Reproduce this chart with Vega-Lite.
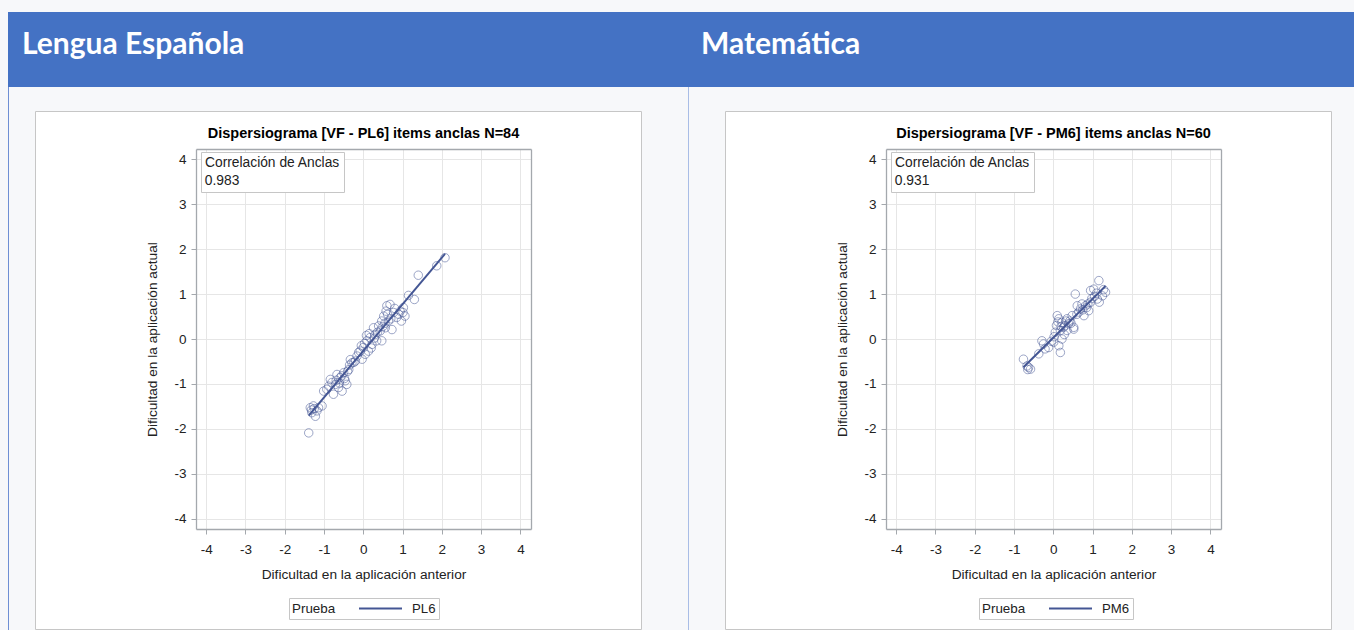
{
  "$schema": "https://vega.github.io/schema/vega-lite/v6.json",
  "padding": {"left": 8, "top": 12, "right": 0, "bottom": 0},
  "background": "#f7f8fa",
  "spacing": 0,
  "config": {"view": {"stroke": null, "fill": "white"}, "font": "Liberation Sans"},
  "datasets": {
    "materias": [{"materia": "Lengua Española"}, {"materia": "Matemática"}],
    "vacio": [],
    "pl6": [
      {"anterior": -1.39, "actual": -2.09}, {"anterior": -1.35, "actual": -1.53}, {"anterior": -1.31, "actual": -1.64},
      {"anterior": -1.27, "actual": -1.49}, {"anterior": -1.22, "actual": -1.72}, {"anterior": -1.18, "actual": -1.60},
      {"anterior": -1.14, "actual": -1.53}, {"anterior": -1.05, "actual": -1.49}, {"anterior": -1.32, "actual": -1.58},
      {"anterior": -1.25, "actual": -1.55}, {"anterior": -1.01, "actual": -1.16}, {"anterior": -0.93, "actual": -1.12},
      {"anterior": -0.84, "actual": -0.90}, {"anterior": -0.76, "actual": -1.23}, {"anterior": -0.71, "actual": -1.01},
      {"anterior": -0.67, "actual": -0.79}, {"anterior": -0.63, "actual": -1.08}, {"anterior": -0.59, "actual": -0.86},
      {"anterior": -0.54, "actual": -1.16}, {"anterior": -0.50, "actual": -0.75}, {"anterior": -0.46, "actual": -0.93},
      {"anterior": -0.42, "actual": -1.01}, {"anterior": -0.37, "actual": -0.68}, {"anterior": -0.33, "actual": -0.46},
      {"anterior": -0.29, "actual": -0.53}, {"anterior": -0.88, "actual": -1.05}, {"anterior": -0.80, "actual": -0.97},
      {"anterior": -0.69, "actual": -0.92}, {"anterior": -0.61, "actual": -0.98}, {"anterior": -0.55, "actual": -0.82},
      {"anterior": -0.48, "actual": -0.88}, {"anterior": -0.40, "actual": -0.72}, {"anterior": -0.35, "actual": -0.58},
      {"anterior": -0.24, "actual": -0.52}, {"anterior": -0.20, "actual": -0.49}, {"anterior": -0.16, "actual": -0.38},
      {"anterior": -0.12, "actual": -0.30}, {"anterior": -0.08, "actual": -0.27}, {"anterior": -0.03, "actual": -0.45},
      {"anterior": 0.00, "actual": -0.19}, {"anterior": 0.03, "actual": -0.10}, {"anterior": 0.05, "actual": -0.34},
      {"anterior": 0.09, "actual": -0.04}, {"anterior": 0.13, "actual": -0.27}, {"anterior": 0.17, "actual": 0.03},
      {"anterior": 0.20, "actual": -0.20}, {"anterior": 0.22, "actual": -0.12}, {"anterior": 0.26, "actual": 0.25},
      {"anterior": 0.30, "actual": 0.10}, {"anterior": 0.34, "actual": -0.04}, {"anterior": 0.39, "actual": 0.29},
      {"anterior": 0.43, "actual": 0.18}, {"anterior": 0.47, "actual": -0.04}, {"anterior": 0.08, "actual": 0.08},
      {"anterior": 0.15, "actual": 0.12}, {"anterior": 0.28, "actual": 0.02}, {"anterior": 0.36, "actual": 0.15},
      {"anterior": -0.05, "actual": -0.15}, {"anterior": 0.47, "actual": 0.40}, {"anterior": 0.52, "actual": 0.51},
      {"anterior": 0.56, "actual": 0.25}, {"anterior": 0.60, "actual": 0.74}, {"anterior": 0.64, "actual": 0.40},
      {"anterior": 0.68, "actual": 0.77}, {"anterior": 0.73, "actual": 0.21}, {"anterior": 0.77, "actual": 0.59},
      {"anterior": 0.85, "actual": 0.48}, {"anterior": 0.94, "actual": 0.62}, {"anterior": 1.02, "actual": 0.70},
      {"anterior": 1.06, "actual": 0.51}, {"anterior": 0.55, "actual": 0.35}, {"anterior": 0.62, "actual": 0.55},
      {"anterior": 0.70, "actual": 0.45}, {"anterior": 0.80, "actual": 0.68}, {"anterior": 0.90, "actual": 0.55},
      {"anterior": 0.58, "actual": 0.62}, {"anterior": 0.50, "actual": 0.28}, {"anterior": 1.01, "actual": 0.59},
      {"anterior": 1.15, "actual": 0.97}, {"anterior": 1.30, "actual": 0.88}, {"anterior": 1.40, "actual": 1.42},
      {"anterior": 1.87, "actual": 1.63}, {"anterior": 2.08, "actual": 1.81}, {"anterior": 0.97, "actual": 0.40}
    ],
    "pm6": [
      {"anterior": -0.76, "actual": -0.45}, {"anterior": -0.67, "actual": -0.60}, {"anterior": -0.63, "actual": -0.63},
      {"anterior": -0.58, "actual": -0.67}, {"anterior": -0.37, "actual": -0.33}, {"anterior": -0.29, "actual": -0.04},
      {"anterior": -0.25, "actual": -0.11}, {"anterior": -0.21, "actual": -0.22}, {"anterior": -0.12, "actual": -0.19},
      {"anterior": 0.01, "actual": -0.07}, {"anterior": 0.05, "actual": 0.15}, {"anterior": 0.10, "actual": 0.52},
      {"anterior": 0.14, "actual": 0.45}, {"anterior": 0.14, "actual": -0.15}, {"anterior": 0.18, "actual": 0.19},
      {"anterior": 0.18, "actual": -0.30}, {"anterior": 0.22, "actual": 0.37}, {"anterior": 0.22, "actual": 0.00},
      {"anterior": 0.26, "actual": 0.26}, {"anterior": 0.35, "actual": 0.45}, {"anterior": 0.35, "actual": 0.19},
      {"anterior": 0.39, "actual": 0.34}, {"anterior": 0.48, "actual": 0.52}, {"anterior": 0.52, "actual": 0.26},
      {"anterior": 0.52, "actual": 0.22}, {"anterior": 0.56, "actual": 1.00}, {"anterior": 0.61, "actual": 0.74},
      {"anterior": 0.69, "actual": 0.67}, {"anterior": 0.73, "actual": 0.78}, {"anterior": 0.78, "actual": 0.52},
      {"anterior": 0.82, "actual": 0.74}, {"anterior": 0.90, "actual": 0.63}, {"anterior": 0.95, "actual": 0.82},
      {"anterior": 0.95, "actual": 1.08}, {"anterior": 1.03, "actual": 1.11}, {"anterior": 1.12, "actual": 0.89},
      {"anterior": 1.16, "actual": 1.30}, {"anterior": 1.17, "actual": 0.82}, {"anterior": 1.25, "actual": 0.96},
      {"anterior": 1.33, "actual": 1.04}, {"anterior": 0.08, "actual": 0.30}, {"anterior": 0.12, "actual": 0.38},
      {"anterior": 0.30, "actual": 0.30}, {"anterior": 0.42, "actual": 0.40}, {"anterior": 0.28, "actual": 0.10},
      {"anterior": -0.05, "actual": -0.05}, {"anterior": 0.65, "actual": 0.60}, {"anterior": 0.75, "actual": 0.65},
      {"anterior": 0.85, "actual": 0.70}, {"anterior": 1.05, "actual": 0.95}, {"anterior": 1.10, "actual": 1.02},
      {"anterior": 0.98, "actual": 0.90}, {"anterior": 0.60, "actual": 0.55}, {"anterior": 0.20, "actual": 0.28},
      {"anterior": 0.02, "actual": 0.05}, {"anterior": 0.45, "actual": 0.35}, {"anterior": -0.65, "actual": -0.68},
      {"anterior": 1.28, "actual": 1.10}, {"anterior": 0.88, "actual": 0.78}, {"anterior": 0.32, "actual": 0.40}
    ]
  },
  "vconcat": [
    {
      "width": 1346,
      "height": 75,
      "view": {"fill": "#4472C4", "stroke": null},
      "data": {"name": "materias"},
      "mark": {"type": "text", "align": "left", "baseline": "alphabetic", "dy": 4, "font": "Lato", "fontWeight": "bold", "fontSize": 30, "color": "white"},
      "encoding": {
        "x": {"field": "materia", "type": "nominal", "sort": null, "axis": null, "scale": {"type": "point", "range": [14, 693], "padding": 0}},
        "text": {"field": "materia"}
      }
    },
    {
      "spacing": 0,
      "resolve": {"scale": {"shape": "independent", "stroke": "independent"}},
      "hconcat": [
        {"width": 1, "height": 543, "view": {"fill": "#6f8fd4", "stroke": null}, "data": {"name": "vacio"}, "mark": "point"},
        {"width": 25, "height": 543, "data": {"name": "vacio"}, "mark": "point"},
        {
          "spacing": 0,
          "vconcat": [
            {"width": 606, "height": 23, "data": {"name": "vacio"}, "mark": "point"},
            {
              "width": 606,
              "height": 518,
              "view": {"stroke": "#c6c6c6", "fill": "white"},
              "title": {"text": "Dispersiograma [VF - PL6] items anclas N=84", "font": "Liberation Sans", "fontSize": 14.5, "fontWeight": "bold", "color": "#000000", "offset": -30, "dx": 25.5},
              "data": {"name": "pl6"},
              "layer": [
                {
                  "mark": {"type": "point", "filled": false, "size": 72, "stroke": "#445694", "strokeWidth": 1, "strokeOpacity": 0.75},
                  "encoding": {
                    "x": {"field": "anterior", "type": "quantitative",
                      "scale": {"domain": [-4.26, 4.27], "range": [161, 496], "nice": false, "zero": false},
                      "axis": {"orient": "bottom", "offset": -100, "values": [-4, -3, -2, -1, 0, 1, 2, 3, 4], "labelExpr": "datum.value < 0 ? '-' + abs(datum.value) : '' + datum.value", "grid": false, "domain": true, "domainColor": "#a4a8ad", "domainWidth": 1.3, "tickColor": "#a4a8ad", "tickSize": 5, "labelFontSize": 13.5, "labelColor": "#222222", "labelPadding": 8, "title": "Dificultad en la aplicación anterior", "titleFontSize": 13.7, "titleFontWeight": "normal", "titleColor": "#222222", "titlePadding": 12}},
                    "y": {"field": "actual", "type": "quantitative",
                      "scale": {"domain": [-4.23, 4.23], "range": [418, 38], "nice": false, "zero": false},
                      "axis": {"orient": "left", "offset": -161, "values": [-4, -3, -2, -1, 0, 1, 2, 3, 4], "labelExpr": "datum.value < 0 ? '-' + abs(datum.value) : '' + datum.value", "grid": true, "gridColor": "#e6e6e6", "domain": true, "domainColor": "#a4a8ad", "domainWidth": 1.3, "tickColor": "#a4a8ad", "tickSize": 5, "labelFontSize": 13.5, "labelColor": "#222222", "labelPadding": 5, "title": "Dificultad en la aplicación actual", "titleFontSize": 13.7, "titleFontWeight": "normal", "titleColor": "#222222", "titlePadding": 14}},
                    "shape": {"datum": "0.983", "type": "nominal", "scale": {"range": ["circle"]},
                      "legend": {"orient": "none", "legendX": 166, "legendY": 65, "title": "Correlación de Anclas", "titleFontSize": 13.8, "titleFontWeight": "normal", "titleColor": "#222222", "titlePadding": 4, "labelFontSize": 13.8, "labelColor": "#222222", "symbolSize": 0, "symbolOpacity": 0, "symbolStrokeWidth": 0, "labelOffset": -14, "padding": 4, "strokeColor": "#c6c6c6", "fillColor": "white"}}
                  }
                },
                {
                  "transform": [{"regression": "actual", "on": "anterior"}],
                  "mark": {"type": "line", "strokeWidth": 2},
                  "encoding": {
                    "x": {"field": "anterior", "type": "quantitative", "axis": {"orient": "top", "offset": -38, "values": [-4, -3, -2, -1, 0, 1, 2, 3, 4], "labels": false, "ticks": false, "grid": true, "gridColor": "#e6e6e6", "domain": true, "domainColor": "#a4a8ad", "domainWidth": 1.3, "title": null}},
                    "y": {"field": "actual", "type": "quantitative", "axis": {"orient": "right", "offset": -110, "labels": false, "ticks": false, "grid": false, "domain": true, "domainColor": "#a4a8ad", "domainWidth": 1.3, "title": null}},
                    "stroke": {"datum": "PL6", "type": "nominal", "scale": {"range": ["#445694"]},
                      "legend": {"orient": "none", "legendX": 254, "legendY": 511, "direction": "horizontal", "title": "Prueba", "titleOrient": "left", "titleFontSize": 13.4, "titleFontWeight": "normal", "titleColor": "#222222", "titlePadding": 22, "labelFontSize": 13.2, "labelColor": "#222222", "labelOffset": 9, "symbolType": "stroke", "symbolSize": 1849, "symbolStrokeWidth": 2, "clipHeight": 15, "padding": 3, "strokeColor": "#c6c6c6", "fillColor": "white"}}
                  }
                }
              ],
              "resolve": {"axis": {"x": "independent", "y": "independent"}}
            },
            {"width": 606, "height": 2, "data": {"name": "vacio"}, "mark": "point"}
          ]
        },
        {"width": 46, "height": 543, "data": {"name": "vacio"}, "mark": "point"},
        {"width": 1, "height": 543, "view": {"fill": "#a9bde6", "stroke": null}, "data": {"name": "vacio"}, "mark": "point"},
        {"width": 35, "height": 543, "data": {"name": "vacio"}, "mark": "point"},
        {
          "spacing": 0,
          "vconcat": [
            {"width": 606, "height": 23, "data": {"name": "vacio"}, "mark": "point"},
            {
              "width": 606,
              "height": 518,
              "view": {"stroke": "#c6c6c6", "fill": "white"},
              "title": {"text": "Dispersiograma [VF - PM6] items anclas N=60", "font": "Liberation Sans", "fontSize": 14.5, "fontWeight": "bold", "color": "#000000", "offset": -30, "dx": 25.5},
              "data": {"name": "pm6"},
              "layer": [
                {
                  "mark": {"type": "point", "filled": false, "size": 72, "stroke": "#445694", "strokeWidth": 1, "strokeOpacity": 0.75},
                  "encoding": {
                    "x": {"field": "anterior", "type": "quantitative",
                      "scale": {"domain": [-4.26, 4.27], "range": [161, 496], "nice": false, "zero": false},
                      "axis": {"orient": "bottom", "offset": -100, "values": [-4, -3, -2, -1, 0, 1, 2, 3, 4], "labelExpr": "datum.value < 0 ? '-' + abs(datum.value) : '' + datum.value", "grid": false, "domain": true, "domainColor": "#a4a8ad", "domainWidth": 1.3, "tickColor": "#a4a8ad", "tickSize": 5, "labelFontSize": 13.5, "labelColor": "#222222", "labelPadding": 8, "title": "Dificultad en la aplicación anterior", "titleFontSize": 13.7, "titleFontWeight": "normal", "titleColor": "#222222", "titlePadding": 12}},
                    "y": {"field": "actual", "type": "quantitative",
                      "scale": {"domain": [-4.23, 4.23], "range": [418, 38], "nice": false, "zero": false},
                      "axis": {"orient": "left", "offset": -161, "values": [-4, -3, -2, -1, 0, 1, 2, 3, 4], "labelExpr": "datum.value < 0 ? '-' + abs(datum.value) : '' + datum.value", "grid": true, "gridColor": "#e6e6e6", "domain": true, "domainColor": "#a4a8ad", "domainWidth": 1.3, "tickColor": "#a4a8ad", "tickSize": 5, "labelFontSize": 13.5, "labelColor": "#222222", "labelPadding": 5, "title": "Dificultad en la aplicación actual", "titleFontSize": 13.7, "titleFontWeight": "normal", "titleColor": "#222222", "titlePadding": 14}},
                    "shape": {"datum": "0.931", "type": "nominal", "scale": {"range": ["circle"]},
                      "legend": {"orient": "none", "legendX": 166, "legendY": 65, "title": "Correlación de Anclas", "titleFontSize": 13.8, "titleFontWeight": "normal", "titleColor": "#222222", "titlePadding": 4, "labelFontSize": 13.8, "labelColor": "#222222", "symbolSize": 0, "symbolOpacity": 0, "symbolStrokeWidth": 0, "labelOffset": -14, "padding": 4, "strokeColor": "#c6c6c6", "fillColor": "white"}}
                  }
                },
                {
                  "transform": [{"regression": "actual", "on": "anterior"}],
                  "mark": {"type": "line", "strokeWidth": 2},
                  "encoding": {
                    "x": {"field": "anterior", "type": "quantitative", "axis": {"orient": "top", "offset": -38, "values": [-4, -3, -2, -1, 0, 1, 2, 3, 4], "labels": false, "ticks": false, "grid": true, "gridColor": "#e6e6e6", "domain": true, "domainColor": "#a4a8ad", "domainWidth": 1.3, "title": null}},
                    "y": {"field": "actual", "type": "quantitative", "axis": {"orient": "right", "offset": -110, "labels": false, "ticks": false, "grid": false, "domain": true, "domainColor": "#a4a8ad", "domainWidth": 1.3, "title": null}},
                    "stroke": {"datum": "PM6", "type": "nominal", "scale": {"range": ["#445694"]},
                      "legend": {"orient": "none", "legendX": 254, "legendY": 511, "direction": "horizontal", "title": "Prueba", "titleOrient": "left", "titleFontSize": 13.4, "titleFontWeight": "normal", "titleColor": "#222222", "titlePadding": 22, "labelFontSize": 13.2, "labelColor": "#222222", "labelOffset": 9, "symbolType": "stroke", "symbolSize": 1849, "symbolStrokeWidth": 2, "clipHeight": 15, "padding": 3, "strokeColor": "#c6c6c6", "fillColor": "white"}}
                  }
                }
              ],
              "resolve": {"axis": {"x": "independent", "y": "independent"}}
            },
            {"width": 606, "height": 2, "data": {"name": "vacio"}, "mark": "point"}
          ]
        },
        {"width": 26, "height": 543, "data": {"name": "vacio"}, "mark": "point"}
      ]
    }
  ]
}
